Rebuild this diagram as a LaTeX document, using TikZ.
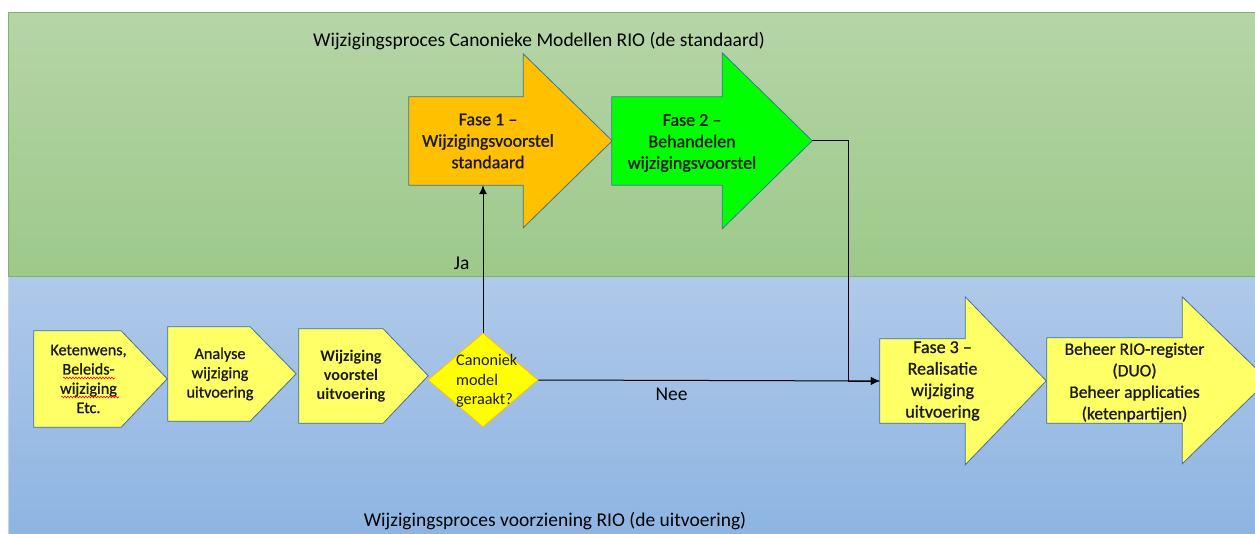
\documentclass[tikz,border=0pt]{standalone}
\usepackage{fontspec}
\setmainfont{Carlito}
\newfontfamily\vormfont[FakeBold=0.9]{Carlito}
\usepackage{tikz}
\usetikzlibrary{shapes.geometric,arrows.meta,decorations.pathmorphing}

\definecolor{groenboven}{HTML}{B5D5A7}
\definecolor{groenonder}{HTML}{9DC98A}
\definecolor{blauwboven}{HTML}{AFC9E9}
\definecolor{blauwonder}{HTML}{8DB4E2}
\definecolor{randgroen}{HTML}{7FB46A}
\definecolor{randlichtblauw}{HTML}{BDD7EE}
\definecolor{vormrand}{HTML}{41719C}
\definecolor{oranje}{HTML}{FFC000}
\definecolor{felgroen}{HTML}{00FF00}
\definecolor{lichtgeel}{HTML}{FFFF66}
\definecolor{geel}{HTML}{FFFF00}
\definecolor{tekstgrijs}{HTML}{1A1A1A}

\tikzstyle{blok} = [rectangle, inner sep=0pt, draw=none]
\tikzstyle{vorm} = [draw=vormrand, line width=0.8pt, line join=miter]
\tikzstyle{fasetekst} = [align=center, inner sep=0pt, text=tekstgrijs, font=\vormfont\fontsize{18}{21.5}\selectfont]
\tikzstyle{staptekst} = [align=center, inner sep=0pt, text=tekstgrijs, font=\vormfont\fontsize{16.2}{19.3}\selectfont]
\tikzstyle{keuze} = [diamond, minimum width=110pt, minimum height=94pt, inner sep=0pt, fill=geel, draw=oranje, line width=0.8pt]
\tikzstyle{titel} = [inner sep=0pt, font=\fontsize{19.5}{23}\selectfont]
\tikzstyle{arrow} = [line width=1pt, -{Latex[length=9pt,width=8pt]}]
\tikzstyle{golflijn} = [red, line width=0.6pt, decorate, decoration={snake, amplitude=0.9pt, segment length=3pt}]

\begin{document}
\begin{tikzpicture}[x=1pt, y=-1pt]
    \useasboundingbox (0,0) rectangle (1255,534);
    \fill[white] (0,0) rectangle (1255,534);
    % banen
    \path[draw=randlichtblauw, line width=1pt, top color=blauwboven, bottom color=blauwonder] (8,277) rectangle (1262,540);
    \path[draw=randgroen, line width=1pt, top color=groenboven, bottom color=groenonder] (8,13) rectangle (1262,277);
    \node (titelstandaard) [titel] at (539,41) {Wijzigingsproces Canonieke Modellen RIO (de standaard)};
    \node (titeluitvoering) [titel] at (555,521) {Wijzigingsproces voorziening RIO (de uitvoering)};

    % fasen
    \node (fase1) [blok, minimum width=114pt, minimum height=88pt] at (466,141) {};
    \draw[vorm, fill=oranje] (fase1.south west) -- (fase1.north west) -- (fase1.north east) -- ++(0,-43) -- ++(89,87) -- ++(-89,87) -- (fase1.south east) -- cycle;
    \node (fase1tekst) [fasetekst] at ([xshift=22pt]fase1.center) {Fase 1 –\\Wijzigingsvoorstel\\standaard};

    \node (fase2) [blok, minimum width=110pt, minimum height=88pt] at (667,141) {};
    \draw[vorm, fill=felgroen] (fase2.south west) -- (fase2.north west) -- (fase2.north east) -- ++(0,-44) -- ++(90,88) coordinate (fase2punt) -- ++(-90,88) -- (fase2.south east) -- cycle;
    \node (fase2tekst) [fasetekst] at ([xshift=25pt, yshift=-2pt]fase2.center) {Fase 2 –\\Behandelen\\wijzigingsvoorstel};

    \node (fase3) [blok, minimum width=85pt, minimum height=84pt] at (922.5,381) {};
    \draw[vorm, fill=lichtgeel] (fase3.south west) -- (fase3.north west) -- (fase3.north east) -- ++(0,-42) -- ++(81,84) -- ++(-81,84) -- (fase3.south east) -- cycle;
    \node (fase3tekst) [fasetekst] at ([xshift=20pt]fase3.center) {Fase 3 –\\Realisatie\\wijziging\\uitvoering};

    \node (beheer) [blok, minimum width=135pt, minimum height=85pt] at (1114.5,380.5) {};
    \draw[vorm, fill=lichtgeel] (beheer.south west) -- (beheer.north west) -- (beheer.north east) -- ++(0,-41) -- ++(86,83.5) -- ++(-86,83.5) -- (beheer.south east) -- cycle;
    \node (beheertekst) [fasetekst, font=\vormfont\fontsize{17.5}{21.5}\selectfont] at ([xshift=20pt, yshift=-2pt]beheer.center) {Beheer RIO-register\\(DUO)\\Beheer applicaties\\(ketenpartijen)};

    % stappen uitvoering
    \node (stap1) [blok, minimum width=87pt, minimum height=96pt] at (77.5,379) {};
    \draw[vorm, fill=lichtgeel] (stap1.south west) -- (stap1.north west) -- (stap1.north east) -- ++(46,48) -- (stap1.south east) -- cycle;
    \node (stap1tekst) [staptekst] at ([xshift=11pt]stap1.center) {Ketenwens,\\Beleids-\\wijziging\\Etc.};
    \draw[golflijn] (63,378) -- (115,378);
    \draw[golflijn] (61,397) -- (119,397);

    \node (stap2) [blok, minimum width=82pt, minimum height=94pt] at (209,374) {};
    \draw[vorm, fill=lichtgeel] (stap2.south west) -- (stap2.north west) -- (stap2.north east) -- ++(46,47) -- (stap2.south east) -- cycle;
    \node (stap2tekst) [staptekst] at ([xshift=11pt]stap2.center) {Analyse\\wijziging\\uitvoering};

    \node (stap3) [blok, minimum width=84pt, minimum height=94pt] at (341,376) {};
    \draw[vorm, fill=lichtgeel] (stap3.south west) -- (stap3.north west) -- (stap3.north east) -- ++(45,47) -- (stap3.south east) -- cycle;
    \node (stap3tekst) [staptekst, font=\fontsize{16.2}{19.3}\selectfont\bfseries] at ([xshift=10pt]stap3.center) {Wijziging\\voorstel\\uitvoering};

    \node (canoniek) [keuze] at (483,380) {};
    \node (canoniektekst) [staptekst, font=\fontsize{16.2}{19.5}\selectfont, align=left, anchor=west] at (456,381) {Canoniek\\model\\geraakt?};

    % verbindingen
    \draw [arrow] (canoniek.north) -- (canoniek.north |- fase1.south) node[pos=0.47, left=13pt, titel] {Ja};
    \draw [arrow] (canoniek.east) -- (fase3.west) node[pos=0.39, below=7pt, titel] {Nee};
    \draw [arrow] (fase2punt) -- ++(36,0) |- (fase3.west);
\end{tikzpicture}
\end{document}
